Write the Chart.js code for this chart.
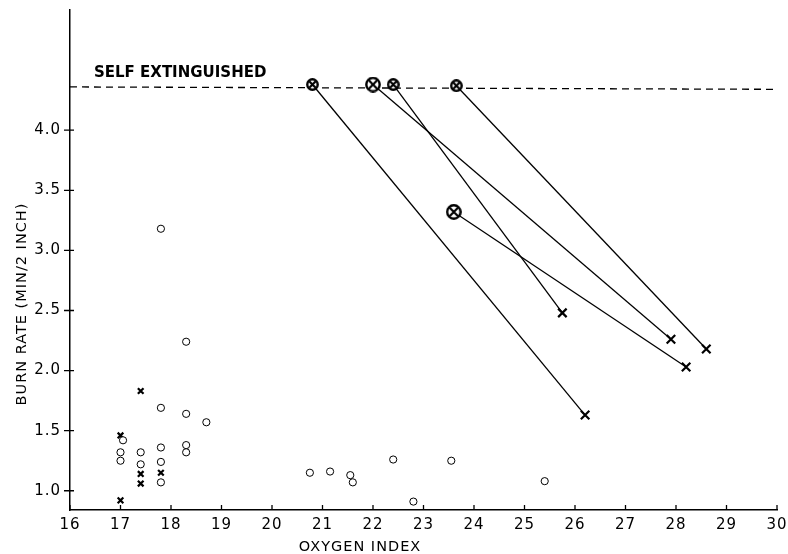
<!DOCTYPE html>
<html>
<head>
<meta charset="utf-8">
<script src="https://cdn.jsdelivr.net/npm/chart.js@4"></script>
<style>
  html, body { margin: 0; padding: 0; background: #fff; }
  #wrap { width: 788px; height: 554px; }
</style>
</head>
<body>
<div id="wrap"><canvas id="burnChart"></canvas></div>
<script>
// data
const xTicks = [16, 17, 18, 19, 20, 21, 22, 23, 24, 25, 26, 27, 28, 29, 30];
const yTicks = [1.0, 1.5, 2.0, 2.5, 3.0, 3.5, 4.0];

// self extinguished line
const selfX = [16, 30];
const selfY = [4.36, 4.34];

// circled X (self extinguished / start) -> X (end), paired by index
const startX = [20.8, 22.0, 22.4, 23.65, 23.6];
const startY = [4.38, 4.38, 4.38, 4.37, 3.32];
const endX = [26.2, 27.9, 25.75, 28.6, 28.2];
const endY = [1.63, 2.26, 2.48, 2.18, 2.03];

// open circles
const circleX = [17.8, 18.3, 17.8, 18.3, 18.7, 17.05, 17.0, 17.0, 17.4, 17.4, 17.8, 17.8, 17.8, 18.3, 18.3, 20.75, 21.15, 21.55, 21.6, 22.4, 22.8, 23.55, 25.4];
const circleY = [3.18, 2.24, 1.69, 1.64, 1.57, 1.42, 1.32, 1.25, 1.32, 1.22, 1.36, 1.24, 1.07, 1.38, 1.32, 1.15, 1.16, 1.13, 1.07, 1.26, 0.91, 1.25, 1.08];

// small crosses
const crossX = [17.0, 17.4, 17.4, 17.4, 17.8, 17.0];
const crossY = [1.46, 1.83, 1.14, 1.06, 1.15, 0.92];

function pts(xs, ys) {
    return xs.map((x, i) => ({ x: x, y: ys[i] }));
}

// circle with an X inside
function makeCircleX(size) {
    const c = document.createElement('canvas');
    c.width = size; c.height = size;
    const g = c.getContext('2d');
    const r = size / 2 - 1.3;
    g.beginPath();
    g.arc(size / 2, size / 2, r, 0, Math.PI * 2);
    g.fillStyle = '#fff';
    g.fill();
    g.lineWidth = 2.4;
    g.strokeStyle = '#000';
    g.stroke();
    const d = r * 0.62;
    g.lineWidth = 2.2;
    g.beginPath();
    g.moveTo(size / 2 - d, size / 2 - d); g.lineTo(size / 2 + d, size / 2 + d);
    g.moveTo(size / 2 + d, size / 2 - d); g.lineTo(size / 2 - d, size / 2 + d);
    g.stroke();
    return c;
}
const smallMark = makeCircleX(13);
const bigMark = makeCircleX(16);

const datasets = [];

datasets.push({
    data: pts(selfX, selfY),
    showLine: true,
    borderColor: '#000',
    borderWidth: 1.3,
    borderDash: [7, 5],
    pointRadius: 0,
    order: 3
});

startX.forEach((x, i) => {
    datasets.push({
        data: [{ x: x, y: startY[i] }, { x: endX[i], y: endY[i] }],
        showLine: true,
        borderColor: '#000',
        borderWidth: 1.3,
        pointRadius: 0,
        order: 2
    });
});

datasets.push({
    data: pts(startX, startY),
    pointStyle: startX.map((x, i) => (i === 1 || i === 4) ? bigMark : smallMark),
    order: 0
});

datasets.push({
    data: pts(endX, endY),
    pointStyle: 'crossRot',
    pointRadius: 6,
    borderColor: '#000',
    borderWidth: 2.2,
    order: 0
});

datasets.push({
    data: pts(circleX, circleY),
    pointStyle: 'circle',
    pointRadius: 3.6,
    borderColor: '#000',
    backgroundColor: '#fff',
    borderWidth: 1,
    order: 0
});

datasets.push({
    data: pts(crossX, crossY),
    pointStyle: 'crossRot',
    pointRadius: 4,
    borderColor: '#000',
    borderWidth: 2.2,
    order: 0
});

// ticks, titles and the label
const extras = {
    id: 'extras',
    beforeDraw(chart) {
        chart.ctx.letterSpacing = '1px';
    },
    afterDraw(chart) {
        const ctx = chart.ctx;
        const xs = chart.scales.x, ys = chart.scales.y;
        const a = chart.chartArea;
        ctx.save();
        ctx.strokeStyle = '#000';
        ctx.lineWidth = 1.3;
        ctx.beginPath();
        xTicks.forEach(v => {
            const px = xs.getPixelForValue(v);
            ctx.moveTo(px, a.bottom - 5);
            ctx.lineTo(px, a.bottom);
        });
        yTicks.forEach(v => {
            const py = ys.getPixelForValue(v);
            ctx.moveTo(a.left - 6, py);
            ctx.lineTo(a.left + 4, py);
        });
        ctx.stroke();

        ctx.fillStyle = '#000';
        ctx.letterSpacing = '1px';
        ctx.font = '14.5px "DejaVu Sans"';
        ctx.textAlign = 'center';
        ctx.textBaseline = 'alphabetic';
        ctx.fillText('OXYGEN INDEX', 360, 551);

        ctx.save();
        ctx.translate(26, 304);
        ctx.rotate(-Math.PI / 2);
        ctx.fillText('BURN RATE (MIN/2 INCH)', 0, 0);
        ctx.restore();

        ctx.letterSpacing = '0px';
        ctx.font = 'bold 15px "DejaVu Sans"';
        ctx.textAlign = 'left';
        ctx.fillText('SELF EXTINGUISHED', 94, 77);
        ctx.restore();
    }
};

new Chart(document.getElementById('burnChart'), {
    type: 'scatter',
    data: { datasets: datasets },
    options: {
        responsive: true,
        maintainAspectRatio: false,
        animation: false,
        layout: { padding: { top: 10, right: 11, left: 0, bottom: 0 } },
        plugins: {
            legend: { display: false },
            tooltip: { enabled: false }
        },
        scales: {
            x: {
                type: 'linear',
                min: 16,
                max: 30,
                afterFit: s => { s.height = 44; s.paddingLeft = 0; s.paddingRight = 0; },
                afterBuildTicks: s => { s.ticks = xTicks.map(v => ({ value: v })); },
                grid: { display: false, drawTicks: false },
                border: { display: true, color: '#000', width: 1.5 },
                ticks: {
                    color: '#000',
                    padding: 6,
                    maxRotation: 0,
                    autoSkip: false,
                    font: { family: 'DejaVu Sans', size: 15 }
                }
            },
            y: {
                type: 'linear',
                min: 0.84,
                max: 5.0,
                afterFit: s => { s.width = 70; s.paddingTop = 0; s.paddingBottom = 0; },
                afterBuildTicks: s => { s.ticks = yTicks.map(v => ({ value: v })); },
                grid: { display: false, drawTicks: false },
                border: { display: true, color: '#000', width: 1.5 },
                ticks: {
                    color: '#000',
                    padding: 9,
                    font: { family: 'DejaVu Sans', size: 15 },
                    callback: v => v.toFixed(1)
                }
            }
        }
    },
    plugins: [extras]
});
</script>
</body>
</html>
